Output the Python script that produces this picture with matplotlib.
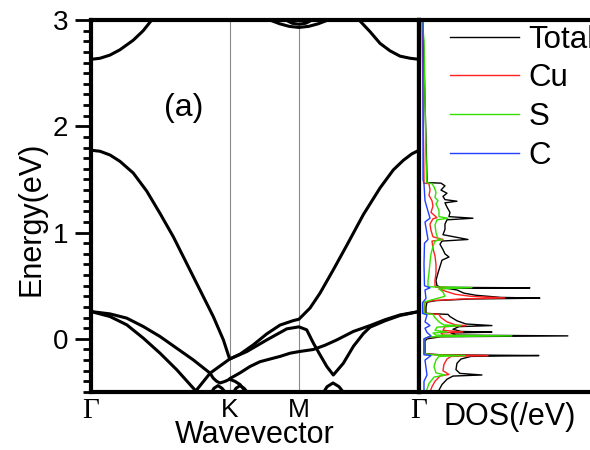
import matplotlib.pyplot as plt
from matplotlib.ticker import MultipleLocator

plt.rcParams['font.family'] = ['Liberation Sans', 'DejaVu Sans']

# high-symmetry points (hexagonal zone: Γ-K = 1, K-M = 0.5, M-Γ = 0.866)
kpoints = [0.0, 1.0, 1.5, 2.366]
klabels = ['Γ', 'K', 'M', 'Γ']

# band structure, energies in eV along the path
top_left_k = [0, 0.065, 0.137, 0.209, 0.305, 0.377, 0.438, 0.47]
top_left_e = [2.63, 2.64, 2.67, 2.72, 2.81, 2.90, 3.0, 3.05]
top_right_k = [1.92, 1.941, 2.013, 2.085, 2.157, 2.229, 2.302, 2.366]
top_right_e = [3.05, 2.99, 2.89, 2.78, 2.71, 2.66, 2.64, 2.63]
m_outer_k = [1.22, 1.29, 1.36, 1.43, 1.5, 1.57, 1.64, 1.71, 1.78]
m_outer_e = [3.05, 3.0, 2.965, 2.94, 2.93, 2.94, 2.965, 3.0, 3.05]
m_inner_k = [1.39, 1.45, 1.5, 1.55, 1.61]
m_inner_e = [3.01, 2.97, 2.96, 2.97, 3.01]

upper_k = [0, 0.065, 0.137, 0.209, 0.305, 0.402, 0.498, 0.594, 0.690, 0.786,
           0.882, 0.955, 1.0, 1.075, 1.171, 1.268, 1.364, 1.46, 1.5, 1.58,
           1.652, 1.748, 1.845, 1.965, 2.085, 2.181, 2.253, 2.314, 2.366]
upper_e = [1.775, 1.765, 1.73, 1.67, 1.56, 1.39, 1.18, 0.96, 0.71, 0.46,
           0.21, -0.01, -0.19, -0.144, -0.056, 0.047, 0.13, 0.172, 0.185, 0.29,
           0.43, 0.65, 0.88, 1.17, 1.42, 1.59, 1.68, 1.74, 1.775]

cross_k = [0.75, 0.859, 1.0, 1.123, 1.268, 1.412, 1.5, 1.556, 1.604, 1.652,
           1.701, 1.748, 1.82, 1.893, 1.965, 2.013, 2.121, 2.229, 2.366]
cross_e = [-0.50, -0.323, -0.19, -0.12, -0.01, 0.094, 0.113, 0.085, -0.04, -0.15,
           -0.26, -0.34, -0.23, -0.07, 0.05, 0.11, 0.17, 0.22, 0.257]

km_k = [1.0, 1.075, 1.147, 1.219, 1.291, 1.364, 1.436, 1.5, 1.604, 1.688,
        1.773, 1.893, 2.013, 2.121, 2.229, 2.366]
km_e = [-0.375, -0.32, -0.26, -0.215, -0.19, -0.165, -0.135, -0.12, -0.10, -0.06,
        -0.01, 0.07, 0.125, 0.18, 0.225, 0.257]

vb1_k = [0, 0.137, 0.258, 0.377, 0.498, 0.618, 0.738, 0.859, 0.882, 0.907,
         0.931, 0.967, 1.0, 1.039, 1.075, 1.099, 1.118]
vb1_e = [0.257, 0.235, 0.195, 0.116, 0.022, -0.088, -0.198, -0.323, -0.37, -0.40,
         -0.415, -0.40, -0.38, -0.40, -0.43, -0.47, -0.51]
vb2_k = [0, 0.137, 0.258, 0.377, 0.498, 0.618, 0.738, 0.763]
vb2_e = [0.257, 0.21, 0.132, 0.007, -0.135, -0.29, -0.464, -0.50]

dome1_k = [0.866, 0.887, 0.916, 0.945, 0.974]
dome2_k = [1.025, 1.046, 1.075, 1.104, 1.133]
dome_e = [-0.51, -0.465, -0.44, -0.465, -0.51]
bump_k = [1.674, 1.703, 1.746, 1.789, 1.825]
bump_e = [-0.51, -0.45, -0.415, -0.45, -0.51]

bands = [(top_left_k, top_left_e), (top_right_k, top_right_e),
         (m_outer_k, m_outer_e), (m_inner_k, m_inner_e),
         (upper_k, upper_e), (cross_k, cross_e), (km_k, km_e),
         (vb1_k, vb1_e), (vb2_k, vb2_e),
         (dome1_k, dome_e), (dome2_k, dome_e), (bump_k, bump_e)]

# density of states, (energy eV, states/eV)
dos_total = [(3.0, 0.15), (2.8, 0.25), (1.5, 0.6), (1.47, 0.6), (1.465, 2.0), (1.44, 2.4),
             (1.40, 2.0), (1.37, 2.6), (1.34, 2.2), (1.31, 2.4), (1.295, 3.6), (1.28, 2.4),
             (1.24, 2.6), (1.19, 2.9), (1.15, 2.8), (1.135, 5.2), (1.12, 2.6), (1.08, 2.4),
             (1.03, 2.4), (0.98, 2.2), (0.935, 4.7), (0.92, 2.1), (0.89, 1.9), (0.84, 2.2),
             (0.80, 2.4), (0.77, 2.8), (0.74, 2.1), (0.68, 1.9), (0.62, 1.7), (0.55, 1.5),
             (0.50, 1.6), (0.485, 2.0), (0.48, 10.9), (0.475, 2.6), (0.46, 3.6), (0.43, 4.3),
             (0.41, 5.5), (0.39, 8.0), (0.383, 11.9), (0.375, 5.0), (0.36, 1.5), (0.345, 0.6),
             (0.30, 0.5), (0.24, 0.5), (0.23, 2.7), (0.21, 2.9), (0.17, 3.6), (0.14, 4.5),
             (0.125, 7.1), (0.115, 3.8), (0.09, 3.2), (0.07, 4.0), (0.063, 7.1), (0.055, 3.0),
             (0.035, 3.5), (0.028, 14.7), (0.02, 2.0), (0.0, 0.6), (-0.02, 0.4), (-0.14, 0.4),
             (-0.15, 2.0), (-0.157, 11.8), (-0.165, 5.0), (-0.19, 4.0), (-0.23, 3.6),
             (-0.29, 3.5), (-0.325, 3.9), (-0.34, 6.1), (-0.35, 3.2), (-0.38, 2.6),
             (-0.43, 2.1), (-0.5, 1.7)]
dos_cu = [(3.0, 0.1), (1.5, 0.3), (1.465, 0.3), (1.46, 0.8), (1.40, 0.9), (1.35, 0.8),
          (1.30, 1.1), (1.25, 1.2), (1.19, 1.0), (1.14, 1.6), (1.13, 1.2), (1.08, 0.9),
          (1.02, 1.0), (0.96, 1.2), (0.935, 2.2), (0.92, 1.1), (0.85, 1.2), (0.78, 1.4),
          (0.70, 1.5), (0.62, 1.5), (0.55, 1.4), (0.50, 1.4), (0.485, 1.5), (0.48, 3.5),
          (0.47, 1.8), (0.45, 2.4), (0.42, 3.4), (0.40, 5.0), (0.385, 8.4), (0.375, 4.0),
          (0.36, 1.2), (0.345, 0.4), (0.24, 0.3), (0.23, 1.8), (0.20, 2.0), (0.16, 2.6),
          (0.13, 3.5), (0.125, 4.5), (0.115, 2.4), (0.08, 2.2), (0.065, 4.2), (0.055, 2.0),
          (0.035, 2.2), (0.028, 5.5), (0.02, 1.0), (0.0, 0.4), (-0.14, 0.3), (-0.15, 1.5),
          (-0.157, 6.7), (-0.165, 3.0), (-0.19, 2.6), (-0.24, 2.3), (-0.30, 2.2),
          (-0.335, 2.8), (-0.35, 1.9), (-0.40, 1.4), (-0.45, 1.1), (-0.5, 0.9)]
dos_s = [(3.0, 0.15), (2.8, 0.3), (2.0, 0.45), (1.5, 0.55), (1.47, 0.6), (1.46, 1.1),
         (1.43, 1.3), (1.38, 1.5), (1.33, 1.4), (1.30, 1.7), (1.27, 1.5), (1.21, 1.8),
         (1.15, 1.8), (1.135, 2.7), (1.12, 1.6), (1.07, 1.4), (1.00, 1.5), (0.94, 1.7),
         (0.935, 2.1), (0.92, 1.4), (0.87, 1.2), (0.80, 1.0), (0.72, 0.9), (0.62, 0.8),
         (0.55, 0.7), (0.49, 0.7), (0.482, 5.1), (0.47, 1.8), (0.44, 2.2), (0.40, 2.4),
         (0.38, 1.6), (0.36, 0.8), (0.345, 0.3), (0.24, 0.3), (0.23, 1.2), (0.20, 1.4),
         (0.16, 1.8), (0.13, 2.3), (0.125, 4.0), (0.11, 1.6), (0.08, 1.4), (0.065, 2.6),
         (0.055, 1.2), (0.035, 1.5), (0.028, 9.1), (0.02, 0.8), (0.0, 0.3), (-0.14, 0.3),
         (-0.15, 1.2), (-0.157, 4.4), (-0.165, 1.8), (-0.2, 1.5), (-0.26, 1.3),
         (-0.32, 1.5), (-0.34, 2.4), (-0.36, 1.3), (-0.42, 0.8), (-0.5, 0.5)]
dos_c = [(3.0, 0.2), (1.5, 0.2), (1.46, 0.3), (1.30, 0.4), (1.135, 0.9), (1.10, 0.4),
         (0.935, 0.7), (0.90, 0.35), (0.70, 0.3), (0.50, 0.35), (0.48, 0.9), (0.46, 0.4),
         (0.38, 0.5), (0.34, 0.15), (0.24, 0.15), (0.226, 0.6), (0.16, 0.4), (0.125, 0.9),
         (0.10, 0.4), (0.06, 0.6), (0.028, 1.0), (0.0, 0.3), (-0.15, 0.3), (-0.157, 1.0),
         (-0.2, 0.4), (-0.34, 0.6), (-0.4, 0.3), (-0.5, 0.3)]

dos_series = [(dos_total, 'black', 'Total'), (dos_cu, '#ff2020', 'Cu'),
              (dos_s, '#33e000', 'S'), (dos_c, '#2040ff', 'C')]

fig = plt.figure(figsize=(5.9, 4.5), dpi=100)
ax = fig.add_axes([91 / 590, 58 / 450, 328 / 590, 372 / 450])
ax_dos = fig.add_axes([419 / 590, 58 / 450, 0.32, 372 / 450])

# bands
for kk, ee in bands:
    ax.plot(kk, ee, color='black', lw=2.2, solid_capstyle='round', solid_joinstyle='round')
for kp in kpoints[1:3]:
    ax.axvline(kp, color='#8a8a8a', lw=0.8, zorder=0)

ax.set_xlim(kpoints[0], kpoints[-1])
ax.set_ylim(-0.5, 3)
ax.set_yticks([0, 1, 2, 3])
ax.yaxis.set_minor_locator(MultipleLocator(0.1))
ax.tick_params(axis='y', which='major', direction='out', length=11.5, width=2,
               labelsize=20, pad=5)
ax.tick_params(axis='y', which='minor', direction='out', length=6, width=2)
ax.set_xticks(kpoints)
ax.set_xticklabels(klabels)
ax.tick_params(axis='x', length=0, labelsize=19, pad=4)
for lbl in ax.get_xticklabels():
    if lbl.get_text() == 'Γ':
        lbl.set_fontfamily(['Liberation Serif', 'DejaVu Serif'])
        lbl.set_fontsize(21)
for sp in ax.spines.values():
    sp.set_linewidth(3)
ax.text(0.67, 2.17, '(a)', ha='center', va='center', fontsize=23)

# DOS panel
handles = []
for data, col, name in dos_series:
    ee = [p[0] for p in data]
    dd = [p[1] for p in data]
    line, = ax_dos.plot(dd, ee, color=col, lw=1.0, label=name)
    handles.append(line)
ax_dos.set_xlim(-0.2, 18.7)
ax_dos.set_ylim(-0.5, 3)
ax_dos.set_xticks([])
ax_dos.set_yticks([])
ax_dos.spines['right'].set_visible(False)
for side in ['left', 'top', 'bottom']:
    ax_dos.spines[side].set_linewidth(3)
ax_dos.legend(handles=handles, loc='upper left',
              bbox_to_anchor=(450 / 590, 1 - 24.5 / 450), bbox_transform=fig.transFigure,
              frameon=False, fontsize=22.5, handlelength=2.22, handletextpad=0.29,
              labelspacing=0.28, borderpad=0, borderaxespad=0)

fig.text(32 / 590, 1 - 219 / 450, 'Energy(eV)', rotation=90, ha='center', va='center',
         fontsize=22)
fig.text(255 / 590, 7 / 450, 'Wavevector', ha='center', va='baseline', fontsize=22)
fig.text(443 / 590, 25 / 450, 'DOS(/eV)', ha='left', va='baseline', fontsize=22)

fig.savefig('out.png', dpi=100)
